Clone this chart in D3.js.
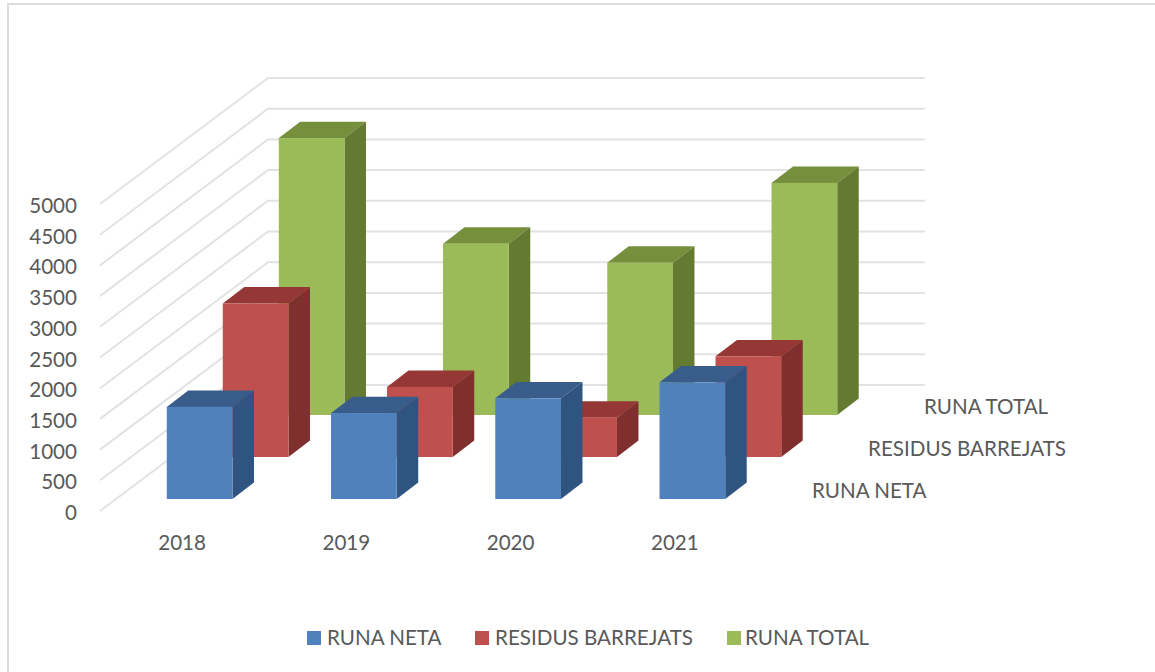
<!DOCTYPE html>
<html lang="en">
<head>
    <meta charset="UTF-8">
    <title>Runa neta, residus barrejats i runa total</title>
    <script src="https://d3js.org/d3.v7.min.js"></script>
    <style>
        body {
            margin: 0;
            padding: 0;
            background: white;
        }

        svg {
            display: block;
        }

        text {
            font-family: Lato, "Open Sans", sans-serif;
            fill: #595959;
        }
    </style>
</head>
<body>
    <svg id="chart" width="1155" height="672"></svg>

    <script>
        const years = ["2018", "2019", "2020", "2021"];
        const seriesNames = ["RUNA NETA", "RESIDUS BARREJATS", "RUNA TOTAL"];
        const runaNeta = [1500, 1400, 1640, 1900];
        const residusBarrejats = [2500, 1140, 640, 1640];
        const runaTotal = [4510, 2790, 2480, 3780];
        const yTicks = [0, 500, 1000, 1500, 2000, 2500, 3000, 3500, 4000, 4500, 5000];

        const seriesValues = [runaNeta, residusBarrejats, runaTotal];
        const frontColors = ["#4f81bd", "#c0504d", "#9bbb59"];
        const topColors = ["#385d8a", "#953735", "#758f3c"];
        const sideColors = ["#2f5480", "#7f2f2d", "#647a30"];

        const svg = d3.select("#chart");

        // floor of the 3D box: front left corner and depth of the whole floor
        const floorX = 100;
        const floorY = 511;
        const depthX = 168;
        const depthY = 126;
        const backRight = 925;

        const y = d3.scaleLinear().domain([0, 5000]).range([floorY, 204]);
        const x = d3.scaleBand().domain(years).range([floorX, floorX + 657]).paddingInner(0.6).paddingOuter(0.3);
        // series sit one behind the other, so this scale gives the depth share
        const z = d3.scaleBand().domain(seriesNames).range([0, 1]);

        // chart border, only left and top are visible in the picture
        svg.append("path")
            .attr("d", "M8,672V4H1155")
            .attr("fill", "none")
            .attr("stroke", "#dcdcdc")
            .attr("stroke-width", 2);

        // gridlines
        const grid = svg.append("g")
            .attr("fill", "none")
            .attr("stroke", "#e2e2e2")
            .attr("stroke-width", 2);

        grid.selectAll("path")
            .data(yTicks)
            .join("path")
            .attr("d", d => `M${floorX},${y(d)}L${floorX + depthX},${y(d) - depthY}H${backRight}`);

        // y axis
        const yAxis = d3.axisLeft(y).tickValues(yTicks).tickSize(0).tickPadding(0).tickFormat(d3.format("d"));
        const yG = svg.append("g")
            .attr("transform", "translate(77,2)")
            .call(yAxis);
        yG.select(".domain").remove();
        yG.selectAll("text").attr("font-size", 20.6).style("font-family", "Lato").attr("fill", "#595959");

        // x axis
        const xAxis = d3.axisBottom(x).tickSize(0).tickPadding(0);
        const xG = svg.append("g")
            .attr("transform", "translate(0,535)")
            .call(xAxis);
        xG.select(".domain").remove();
        xG.selectAll("text").attr("font-size", 20.6).style("font-family", "Lato").attr("fill", "#595959");

        // depth axis labels
        svg.selectAll(".depth-label")
            .data(seriesNames)
            .join("text")
            .attr("class", "depth-label")
            .attr("x", (d, i) => 812 + i * depthX / 3)
            .attr("y", (d, i) => 498 - i * depthY / 3)
            .attr("font-size", 20.6)
            .text(d => d);

        // bars, back row first
        const barShiftX = 17.5;
        const barDepthX = 21.5;
        const barDepthY = 16.4;

        function drawBar(g, year, value, s) {
            const name = seriesNames[s];
            const left = x(year) + barShiftX + z(name) * depthX;
            const right = left + x.bandwidth();
            // base of the front face sits inside the row of the floor
            const base = y(0) - 12 - z(name) * depthY;
            const top = y(value) - 12 - z(name) * depthY;

            g.append("path")
                .attr("d", `M${left},${top}L${left + barDepthX},${top - barDepthY}H${right + barDepthX}L${right},${top}Z`)
                .attr("fill", topColors[s]);
            g.append("path")
                .attr("d", `M${right},${top}L${right + barDepthX},${top - barDepthY}V${base - barDepthY}L${right},${base}Z`)
                .attr("fill", sideColors[s]);
            g.append("rect")
                .attr("x", left)
                .attr("y", top)
                .attr("width", x.bandwidth())
                .attr("height", base - top)
                .attr("fill", frontColors[s]);
        }

        const bars = svg.append("g");
        d3.range(2, -1, -1).forEach(s => {
            years.forEach((year, i) => drawBar(bars, year, seriesValues[s][i], s));
        });

        // legend
        const legend = svg.append("g");
        seriesNames.forEach((name, i) => {
            legend.append("rect")
                .attr("x", [307, 475, 727][i])
                .attr("y", 631)
                .attr("width", 14)
                .attr("height", 14)
                .attr("fill", frontColors[i]);
            legend.append("text")
                .attr("x", [327, 495, 745][i])
                .attr("y", 645)
                .attr("font-size", 20.6)
                .text(name);
        });
    </script>
</body>
</html>
